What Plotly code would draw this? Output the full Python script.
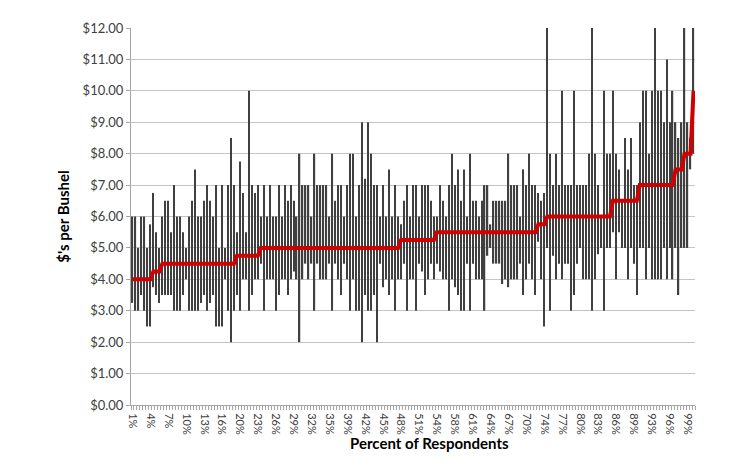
import plotly.graph_objects as go

# high / low price range given by each respondent (sorted by expected price)
high = [6.0, 6.0, 5.0, 6.0, 6.0, 5.0, 5.75, 6.75, 5.5, 5.0,
        6.0, 6.5, 6.5, 5.5, 7.0, 6.0, 6.0, 5.5, 5.0, 6.0,
        6.5, 7.5, 6.0, 6.0, 6.5, 7.0, 6.5, 6.0, 7.0, 5.0,
        7.0, 5.0, 7.0, 8.5, 7.0, 5.5, 7.75, 6.75, 5.5, 10.0,
        7.0, 6.75, 7.0, 6.0, 7.0, 6.0, 7.0, 6.0, 6.0, 7.0,
        6.0, 7.0, 6.5, 7.0, 6.5, 6.0, 8.0, 7.0, 7.0, 7.0,
        6.0, 8.0, 7.0, 7.0, 7.0, 7.0, 6.0, 8.0, 6.5, 7.0,
        7.0, 6.0, 7.0, 8.0, 8.0, 6.0, 7.0, 9.0, 7.2, 9.0,
        8.0, 7.0, 7.0, 6.0, 7.0, 6.0, 7.5, 6.0, 7.0, 6.0,
        5.75, 6.5, 7.0, 6.0, 7.0, 7.0, 6.0, 7.0, 7.0, 7.0,
        6.5, 6.0, 6.0, 7.0, 6.5, 6.0, 7.0, 8.0, 7.0, 7.5,
        6.5, 7.5, 6.0, 8.0, 6.5, 6.5, 6.0, 6.5, 7.0, 7.0,
        5.75, 6.5, 6.5, 6.5, 6.5, 6.5, 8.0, 7.0, 7.0, 7.0,
        6.0, 7.5, 7.0, 8.0, 7.0, 7.0, 6.75, 6.5, 6.75, 12.0,
        8.0, 7.0, 8.0, 7.0, 10.0, 7.0, 7.0, 7.0, 10.0, 7.0,
        7.0, 7.0, 7.0, 8.0, 12.0, 8.0, 7.0, 6.0, 10.0, 8.0,
        8.0, 10.0, 8.0, 7.5, 6.5, 8.5, 7.5, 8.5, 7.0, 7.0,
        9.0, 10.0, 10.0, 8.0, 10.0, 12.0, 10.0, 10.0, 9.0, 11.0,
        9.0, 10.0, 9.0, 8.5, 9.0, 12.0, 9.0, 8.5, 12.0]

low = [3.25, 3.0, 3.0, 3.5, 3.0, 2.5, 2.5, 3.75, 3.5, 3.25,
       3.5, 3.5, 3.5, 3.5, 3.0, 3.0, 3.0, 3.5, 4.0, 3.0,
       3.0, 3.0, 3.0, 3.25, 3.5, 3.0, 3.25, 3.5, 2.5, 2.5,
       2.5, 4.0, 3.0, 2.0, 3.0, 3.5, 3.0, 4.0, 4.0, 3.0,
       3.5, 4.0, 4.0, 4.5, 3.0, 4.0, 4.0, 4.0, 3.0, 3.5,
       4.0, 4.0, 3.5, 4.0, 4.25, 4.0, 2.0, 4.0, 4.5, 4.0,
       4.5, 3.0, 4.5, 4.0, 4.0, 4.0, 4.5, 3.0, 4.5, 4.0,
       3.5, 4.5, 4.0, 3.0, 4.0, 3.0, 3.0, 2.0, 3.5, 3.0,
       3.0, 3.5, 2.0, 4.5, 3.75, 4.0, 3.5, 4.0, 3.0, 4.0,
       4.0, 4.5, 3.0, 4.0, 4.0, 3.0, 4.5, 4.25, 3.5, 4.0,
       4.5, 4.0, 4.5, 4.25, 4.0, 4.0, 3.0, 4.0, 3.75, 3.5,
       3.0, 3.0, 4.5, 3.0, 4.5, 4.0, 4.0, 4.0, 3.0, 4.75,
       5.0, 4.5, 4.5, 4.5, 3.85, 4.0, 3.75, 4.0, 4.0, 4.0,
       4.5, 3.5, 4.0, 4.5, 4.0, 3.5, 5.2, 4.0, 2.5, 5.0,
       3.0, 4.75, 4.0, 4.5, 4.0, 4.5, 4.5, 3.0, 3.5, 4.5,
       5.0, 4.0, 4.0, 4.0, 3.0, 4.0, 4.8, 5.0, 3.0, 5.0,
       5.0, 5.5, 4.0, 5.5, 5.0, 5.0, 4.0, 5.0, 4.5, 3.5,
       5.0, 5.0, 4.0, 5.0, 4.0, 4.0, 4.0, 4.0, 5.0, 4.0,
       5.0, 4.0, 5.0, 3.5, 5.0, 5.0, 5.0, 7.5, 8.0]

# expected price of each respondent (red step line)
expected = [4.0, 4.0, 4.0, 4.0, 4.0, 4.0, 4.0, 4.25, 4.25, 4.25,
            4.5, 4.5, 4.5, 4.5, 4.5, 4.5, 4.5, 4.5, 4.5, 4.5,
            4.5, 4.5, 4.5, 4.5, 4.5, 4.5, 4.5, 4.5, 4.5, 4.5,
            4.5, 4.5, 4.5, 4.5, 4.5, 4.75, 4.75, 4.75, 4.75, 4.75,
            4.75, 4.75, 4.75, 5.0, 5.0, 5.0, 5.0, 5.0, 5.0, 5.0,
            5.0, 5.0, 5.0, 5.0, 5.0, 5.0, 5.0, 5.0, 5.0, 5.0,
            5.0, 5.0, 5.0, 5.0, 5.0, 5.0, 5.0, 5.0, 5.0, 5.0,
            5.0, 5.0, 5.0, 5.0, 5.0, 5.0, 5.0, 5.0, 5.0, 5.0,
            5.0, 5.0, 5.0, 5.0, 5.0, 5.0, 5.0, 5.0, 5.0, 5.0,
            5.25, 5.25, 5.25, 5.25, 5.25, 5.25, 5.25, 5.25, 5.25, 5.25,
            5.25, 5.25, 5.5, 5.5, 5.5, 5.5, 5.5, 5.5, 5.5, 5.5,
            5.5, 5.5, 5.5, 5.5, 5.5, 5.5, 5.5, 5.5, 5.5, 5.5,
            5.5, 5.5, 5.5, 5.5, 5.5, 5.5, 5.5, 5.5, 5.5, 5.5,
            5.5, 5.5, 5.5, 5.5, 5.5, 5.5, 5.75, 5.75, 5.75, 6.0,
            6.0, 6.0, 6.0, 6.0, 6.0, 6.0, 6.0, 6.0, 6.0, 6.0,
            6.0, 6.0, 6.0, 6.0, 6.0, 6.0, 6.0, 6.0, 6.0, 6.0,
            6.0, 6.5, 6.5, 6.5, 6.5, 6.5, 6.5, 6.5, 6.5, 6.5,
            7.0, 7.0, 7.0, 7.0, 7.0, 7.0, 7.0, 7.0, 7.0, 7.0,
            7.0, 7.0, 7.5, 7.5, 7.5, 8.0, 8.0, 8.0, 10.0]

tick_labels = ['1%', '4%', '7%', '10%', '13%', '16%', '20%', '23%', '26%', '29%',
               '32%', '35%', '39%', '42%', '45%', '48%', '51%', '54%', '58%', '61%',
               '64%', '67%', '70%', '74%', '77%', '80%', '83%', '86%', '89%', '93%',
               '96%', '99%']

respondents = list(range(1, len(high) + 1))
ranges = [h - l for h, l in zip(high, low)]

fig = go.Figure()
fig.add_trace(go.Bar(x=respondents, y=ranges, base=low, width=0.42,
                     marker=dict(color='#404040', line=dict(width=0))))
fig.add_trace(go.Scatter(x=respondents, y=expected, mode='lines',
                         line=dict(color='#d00000', width=4)))

font = 'Lato, Open Sans, sans-serif'
# page body adds 8px, so the figure is a bit smaller than the window
fig.update_layout(
    width=742, height=464,
    margin=dict(l=123, r=55, t=17, b=67),
    paper_bgcolor='white', plot_bgcolor='white',
    showlegend=False,
    font=dict(family=font, size=11, color='#404040'),
    xaxis=dict(range=[0.5, len(high) + 0.5], tickmode='array',
               tickvals=respondents[::6], ticktext=tick_labels,
               tickangle=90, ticks='outside', ticklen=5,
               tickcolor='rgba(0,0,0,0)', showgrid=False,
               showline=True, linecolor='#a6a6a6', linewidth=1,
               minor=dict(ticks='outside', ticklen=4, tickcolor='#a6a6a6',
                          tick0=0.5, dtick=1, showgrid=False),
               tickfont=dict(size=11, color='#404040')),
    yaxis=dict(range=[0, 12], dtick=1, tickformat='$.2f',
               showgrid=True, gridcolor='#c4c4c4', gridwidth=1,
               showline=True, linecolor='#a6a6a6', linewidth=1,
               ticks='outside', ticklen=4, tickcolor='#a6a6a6',
               tickfont=dict(size=13, color='#404040'), zeroline=False),
    annotations=[
        dict(text='<b>Percent of Respondents</b>', xref='paper', yref='paper',
             x=0.53, y=-0.10, xanchor='center', yanchor='middle', showarrow=False,
             font=dict(family=font, size=15, color='#000000')),
        dict(text="<b>$'s per Bushel</b>", xref='paper', yref='paper',
             x=-0.122, y=0.5, xanchor='center', yanchor='middle', textangle=-90,
             showarrow=False, font=dict(family=font, size=15, color='#000000')),
    ],
)

fig.write_html('out.html')
